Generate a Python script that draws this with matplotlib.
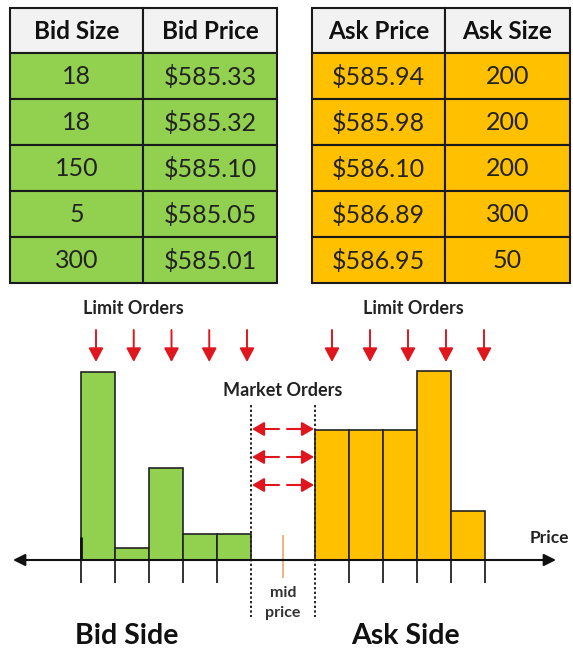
import numpy as np
import matplotlib.pyplot as plt
from matplotlib.patches import Rectangle

# dados das tabelas (livro de ofertas)
bid_size = ['18', '18', '150', '5', '300']
bid_price = ['$585.33', '$585.32', '$585.10', '$585.05', '$585.01']
ask_price = ['$585.94', '$585.98', '$586.10', '$586.89', '$586.95']
ask_size = ['200', '200', '200', '300', '50']

# alturas das barras (da esquerda para a direita)
bid_bar = [188, 12, 92, 26, 26]
ask_bar = [130, 130, 130, 189, 49]

plt.rcParams['font.family'] = ['Lato', 'DejaVu Sans']

W, H = 573, 651
fig = plt.figure(figsize=(W / 100, H / 100), dpi=100)
ax = fig.add_axes([0, 0, 1, 1])
ax.set_xlim(0, W)
ax.set_ylim(H, 0)
ax.axis('off')

GREEN = '#92d050'
ORANGE = '#ffc000'
HEAD = '#f2f2f2'
RED = '#e0161e'

# tabelas
row_y = [8, 53, 99, 145, 191, 237, 283]


def draw_table(col_x, headers, cols, fill):
    for c in range(2):
        x0, x1 = col_x[c], col_x[c + 1]
        for r in range(6):
            y0, y1 = row_y[r], row_y[r + 1]
            color = HEAD if r == 0 else fill
            ax.add_patch(Rectangle((x0, y0), x1 - x0, y1 - y0, facecolor=color,
                                   edgecolor='#1a1a1a', lw=1.5))
            if r == 0:
                ax.text((x0 + x1) / 2, (y0 + y1) / 2 + 1, headers[c], ha='center',
                        va='center', fontsize=17.5, fontweight='bold', color='#111')
            else:
                ax.text((x0 + x1) / 2, (y0 + y1) / 2 + 1, cols[c][r - 1], ha='center',
                        va='center', fontsize=18, color='#222')


draw_table([10, 143, 277], ['Bid Size', 'Bid Price'], [bid_size, bid_price], GREEN)
draw_table([312, 445, 570], ['Ask Price', 'Ask Size'], [ask_price, ask_size], ORANGE)

# grafico do livro
axis_y = 560
w = 34
bid_x = 81 + w * np.arange(len(bid_bar))
ask_x = 315 + w * np.arange(len(ask_bar))

ax.bar(bid_x, -np.array(bid_bar), width=w, bottom=axis_y, align='edge',
       color=GREEN, edgecolor='#222', lw=1.2)
ax.bar(ask_x, -np.array(ask_bar), width=w, bottom=axis_y, align='edge',
       color=ORANGE, edgecolor='#222', lw=1.2)

# eixo de preço
ax.annotate('', xy=(556, axis_y), xytext=(13, axis_y),
            arrowprops=dict(arrowstyle='<|-|>,head_length=0.6,head_width=0.3',
                            color='#111', lw=1.5, mutation_scale=12,
                            shrinkA=0, shrinkB=0))
ax.vlines(bid_x, axis_y, 583, color='#222', lw=1.3)
ax.vlines(ask_x + w, axis_y, 583, color='#222', lw=1.3)
ax.vlines(bid_x[0], 537, axis_y, color='#111', lw=2)

# linhas do spread
ax.vlines([251, 315], 405, 617, color='#222', lw=1.4, linestyles=(0, (1.2, 1.2)))
ax.vlines(283, 535, 578, color='#e8a868', lw=1.2)

# ordens limitadas
for xs in (np.linspace(96, 247, 5), np.linspace(332, 484, 5)):
    for x in xs:
        ax.annotate('', xy=(x, 362), xytext=(x, 330),
                    arrowprops=dict(arrowstyle='-|>,head_length=0.6,head_width=0.32',
                                    color=RED, lw=1.4, mutation_scale=14,
                                    shrinkA=0, shrinkB=0))

# ordens a mercado
for y in (429, 457, 485):
    for x0, x1 in ((279, 252), (287, 314)):
        ax.annotate('', xy=(x1, y), xytext=(x0, y),
                    arrowprops=dict(arrowstyle='-|>,head_length=0.6,head_width=0.35',
                                    color=RED, lw=1.5, mutation_scale=12,
                                    shrinkA=0, shrinkB=0))

# textos
ax.text(133, 309, 'Limit Orders', ha='center', va='center', fontsize=13, fontweight='bold', color='#222')
ax.text(413, 309, 'Limit Orders', ha='center', va='center', fontsize=13, fontweight='bold', color='#222')
ax.text(283, 390, 'Market Orders', ha='center', va='center', fontsize=13, fontweight='bold', color='#222')
ax.text(549, 538, 'Price', ha='center', va='center', fontsize=12.5, fontweight='bold', color='#222')
ax.text(283, 593, 'mid', ha='center', va='center', fontsize=11.5, fontweight='bold', color='#333')
ax.text(283, 613, 'price', ha='center', va='center', fontsize=11.5, fontweight='bold', color='#333')
ax.text(127, 636, 'Bid Side', ha='center', va='center', fontsize=20.5, fontweight='bold', color='#111')
ax.text(405, 636, 'Ask Side', ha='center', va='center', fontsize=20.5, fontweight='bold', color='#111')

fig.savefig('out.png', dpi=100, facecolor='white')
